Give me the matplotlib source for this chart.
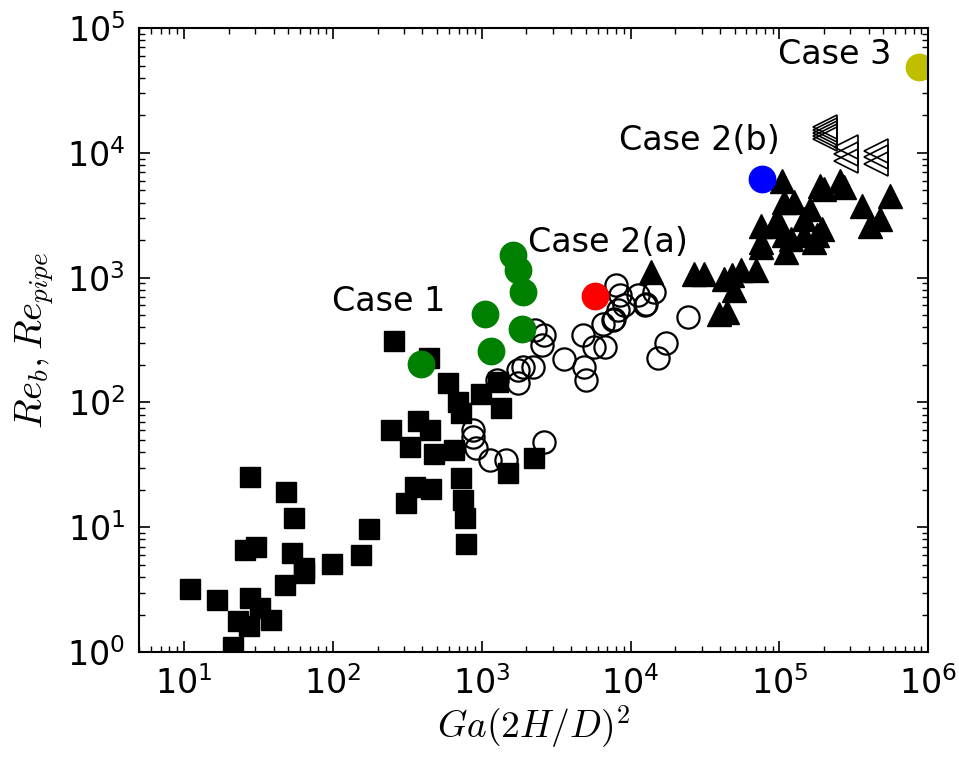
import matplotlib
matplotlib.use('Agg')
import matplotlib.pyplot as plt

# values
sq_x = [11, 16.7, 21.3, 23, 27.3, 27.6, 32.6, 38.5, 47.5, 25.6, 30.7, 53.2, 64.3, 64,
        99.5, 155, 175, 27.6, 48.7, 54.6, 330, 480, 653, 356, 460, 308, 724, 750, 770,
        790, 258, 443, 596, 695, 731, 986, 1290, 1343, 248, 371, 453, 2244, 1500]
sq_y = [3.2, 2.6, 1.1, 1.78, 1.63, 2.7, 2.25, 1.81, 3.46, 6.6, 6.9, 6.2, 4.7, 4.3,
        5.1, 6.0, 9.7, 25.5, 19.1, 11.8, 44, 39, 41.5, 21.2, 20.3, 15.6, 25, 16.5, 11.8,
        7.3, 309, 227, 144, 101, 82, 118, 147, 91, 60, 71, 60, 36, 27]

circ_x = [2620, 2540, 2270, 3560, 2210, 1890, 1750, 1750, 1270, 4900, 5030, 4780, 5720,
          6770, 6500, 7780, 9080, 12600, 17300, 15200, 875, 875, 921, 1130, 1460, 2640,
          8000, 8550, 11200, 14400, 12700, 8200, 7590, 24200]
circ_y = [345, 287, 379, 225, 193, 193, 181, 142, 151, 193, 151, 350, 279,
          279, 429, 470, 600, 600, 297, 228, 60, 53, 43, 34.5, 34.5, 48.5,
          867, 722, 722, 769, 620, 547, 455, 485]

tri_x = [13800, 26700, 31200, 42500, 48300, 55000, 69200, 49500, 39400, 44700, 74800,
         74800, 74800, 104500, 107000, 125000, 110000, 119000, 91900, 146000, 161000,
         188000, 199000, 194000, 170000, 257000, 271000, 359000, 407000, 475000, 555000,
         96600, 107000, 146000, 179000]
tri_y = [1110, 1080, 1080, 982, 1043, 1143, 1143, 791, 515, 531, 2620,
         1930, 1760, 6000, 4030, 4030, 1610, 2050, 2620, 2970, 3560,
         5470, 5150, 2470, 1930, 6000, 5330, 3780, 2620, 2970, 4550,
         2970, 2180, 2180, 2180]

ltri_x = [203000, 203000, 203000, 203000, 203000, 280000, 280000, 280000,
          444000, 444000, 444000]
ltri_y = [16100, 15300, 14500, 13700, 12900, 11200, 9800, 8630,
          10400, 9290, 8170]

case1_x = [1620, 1750, 1890, 1050, 1860, 1150, 390]
case1_y = [1528, 1143, 769, 515, 386, 257, 205]
case2a_x, case2a_y = [5760], [718]
case2b_x, case2b_y = [76800], [6200]
case3_x, case3_y = [863000], [48800]

case_labels = ['Case 1', 'Case 2(a)', 'Case 2(b)', 'Case 3']
label_x = [236, 7030, 28900, 236000]
label_y = [643, 1905, 12470, 61900]

plt.rcParams['mathtext.fontset'] = 'cm'

fig = plt.figure(figsize=(9.59, 7.6), dpi=100)
ax = fig.add_axes([0.145, 0.142, 0.823, 0.821])

ax.plot(sq_x, sq_y, 's', color='black', ms=14, mec='black')
ax.plot(circ_x, circ_y, 'o', mfc='none', mec='black', ms=16, mew=1.6)
ax.plot(tri_x, tri_y, '^', color='black', ms=17)
ax.plot(ltri_x, ltri_y, '<', mfc='none', mec='black', ms=17, mew=1.2)

ax.plot(case1_x, case1_y, 'o', color='green', mec='green', ms=19)
ax.plot(case2a_x, case2a_y, 'o', color='red', mec='red', ms=19)
ax.plot(case2b_x, case2b_y, 'o', color='blue', mec='blue', ms=19)
ax.plot(case3_x, case3_y, 'o', color=(0.75, 0.75, 0), mec=(0.75, 0.75, 0), ms=19)

for lab, lx, ly in zip(case_labels, label_x, label_y):
    ax.text(lx, ly, lab, fontsize=24, ha='center', va='center')

ax.set_xscale('log')
ax.set_yscale('log')
ax.set_xlim(5, 1e6)
ax.set_ylim(1, 1e5)

ax.set_xlabel(r'$Ga(2H/D)^2$', fontsize=27, labelpad=2)
ax.set_ylabel(r'$Re_b,Re_{pipe}$', fontsize=28, labelpad=8)

ax.tick_params(which='both', direction='in', top=True, right=True, labelsize=24)
ax.tick_params(which='major', length=8, width=1.2, pad=10)
ax.tick_params(which='minor', length=4, width=1)
for s in ax.spines.values():
    s.set_linewidth(1.5)

fig.savefig('out.png', dpi=100, facecolor='white')
